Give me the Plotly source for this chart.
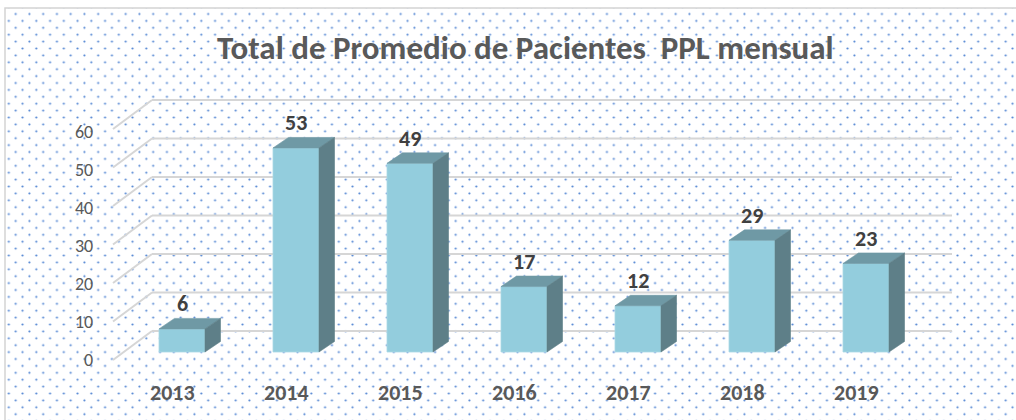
import base64
import plotly.graph_objects as go

# ---- data ----
years = ["2013", "2014", "2015", "2016", "2017", "2018", "2019"]
values = [6, 53, 49, 17, 12, 29, 23]
y_ticks = [0, 10, 20, 30, 40, 50, 60]
title_text = "Total de Promedio de Pacientes  PPL mensual"

# ---- geometry (pixel layout of the 3-D projection) ----
W, H = 1016, 420
PX_CAT = 114.0       # px per category
PX_VAL = 3.85        # px per value unit
X_FRONT0 = 182.0     # px of first bar front centre
Y_BASE = 352.0       # px of bar front baseline
X0 = -X_FRONT0 / PX_CAT


def px_x(p):
    return X0 + p / PX_CAT


def px_y(q):
    return (Y_BASE - q) / PX_VAL


BAR_W = 46 / PX_CAT
DX = 15.5 / PX_CAT
DY = 10.5 / PX_VAL
BACK_DY = 21 / PX_VAL
FRONT_DY = -8 / PX_VAL

FRONT_C = "#93CDDD"
TOP_C = "#6F99A5"
SIDE_C = "#5E7F88"
GRID_C = "#D6D6D6"
TXT_C = "#595959"
FONT = "Carlito, Calibri, Lato, sans-serif"

# ---- background: dotted pattern + frame ----
svg = f'''<svg xmlns="http://www.w3.org/2000/svg" width="{W}" height="{H}">
<defs><pattern id="p" patternUnits="userSpaceOnUse" x="12.3" y="10.55" width="13.75" height="13.8">
<circle cx="3.4" cy="3.45" r="1.1" fill="#5587D4"/>
<circle cx="10.275" cy="10.35" r="1.1" fill="#5587D4"/>
</pattern></defs>
<rect x="0" y="0" width="{W}" height="{H}" fill="white"/>
<rect x="5" y="8" width="{W}" height="{H}" fill="url(#p)" stroke="#D4D4D4" stroke-width="1.5"/>
</svg>'''
src = "data:image/svg+xml;base64," + base64.b64encode(svg.encode()).decode()

fig = go.Figure()

# front faces
fig.add_trace(go.Bar(
    x=list(range(len(years))), y=values, width=BAR_W,
    marker=dict(color=FRONT_C, line=dict(color="#A9D8E6", width=0.8)),
    hoverinfo="skip", showlegend=False))

# top and side faces computed from the values
top_x, top_y, side_x, side_y = [], [], [], []
for i, v in enumerate(values):
    l, r = i - BAR_W / 2, i + BAR_W / 2
    top_x += [l, r, r + DX, l + DX, l, None]
    top_y += [v, v, v + DY, v + DY, v, None]
    side_x += [r, r, r + DX, r + DX, r, None]
    side_y += [0, v, v + DY, DY, 0, None]

fig.add_trace(go.Scatter(x=top_x, y=top_y, fill="toself", fillcolor=TOP_C,
                         mode="lines", line=dict(width=0.6, color=TOP_C),
                         hoverinfo="skip", showlegend=False))
fig.add_trace(go.Scatter(x=side_x, y=side_y, fill="toself", fillcolor=SIDE_C,
                         mode="lines", line=dict(width=0.6, color=SIDE_C),
                         hoverinfo="skip", showlegend=False))

shapes = []
annotations = []
for t in y_ticks:
    # back wall gridline
    shapes.append(dict(type="line", layer="below", xref="x", yref="y",
                       x0=px_x(152), x1=px_x(952), y0=t + BACK_DY, y1=t + BACK_DY,
                       line=dict(color=GRID_C, width=2)))
    # side wall diagonal
    shapes.append(dict(type="line", layer="below", xref="x", yref="y",
                       x0=px_x(113), x1=px_x(152), y0=t + FRONT_DY, y1=t + BACK_DY,
                       line=dict(color=GRID_C, width=2)))
    annotations.append(dict(x=px_x(95), y=px_y(359.5 - 3.8 * t), xref="x", yref="y",
                            text=str(t), showarrow=False, xanchor="right", yanchor="middle",
                            font=dict(family=FONT, size=18, color=TXT_C)))

for i, (yr, v) in enumerate(zip(years, values)):
    annotations.append(dict(x=i - 10 / PX_CAT, y=px_y(392), xref="x", yref="y",
                            text=f"<b>{yr}</b>", showarrow=False, yanchor="middle",
                            font=dict(family=FONT, size=22, color=TXT_C)))
    annotations.append(dict(x=i, y=v + 25 / PX_VAL, xref="x", yref="y",
                            text=f"<b>{v}</b>", showarrow=False, yanchor="middle",
                            font=dict(family=FONT, size=22, color="#404040")))

annotations.append(dict(x=525 / W, y=1 - 48 / H, xref="paper", yref="paper",
                        text=f"<b>{title_text}</b>", showarrow=False,
                        xanchor="center", yanchor="middle",
                        font=dict(family=FONT, size=33, color=TXT_C)))

fig.update_layout(
    width=W, height=H,
    margin=dict(l=0, r=0, t=0, b=0),
    paper_bgcolor="white", plot_bgcolor="rgba(0,0,0,0)",
    xaxis=dict(range=[X0, X0 + W / PX_CAT], visible=False, fixedrange=True),
    yaxis=dict(range=[px_y(H), px_y(0)], visible=False, fixedrange=True),
    images=[dict(source=src, xref="paper", yref="paper", x=0, y=1,
                 sizex=1, sizey=1, sizing="stretch", xanchor="left",
                 yanchor="top", layer="below")],
    shapes=shapes,
    annotations=annotations,
    showlegend=False,
    hovermode=False,
)

fig.write_html("out.html",
               config={"displayModeBar": False, "staticPlot": True},
               post_script="document.body.style.margin='0';document.body.style.overflow='hidden';")
